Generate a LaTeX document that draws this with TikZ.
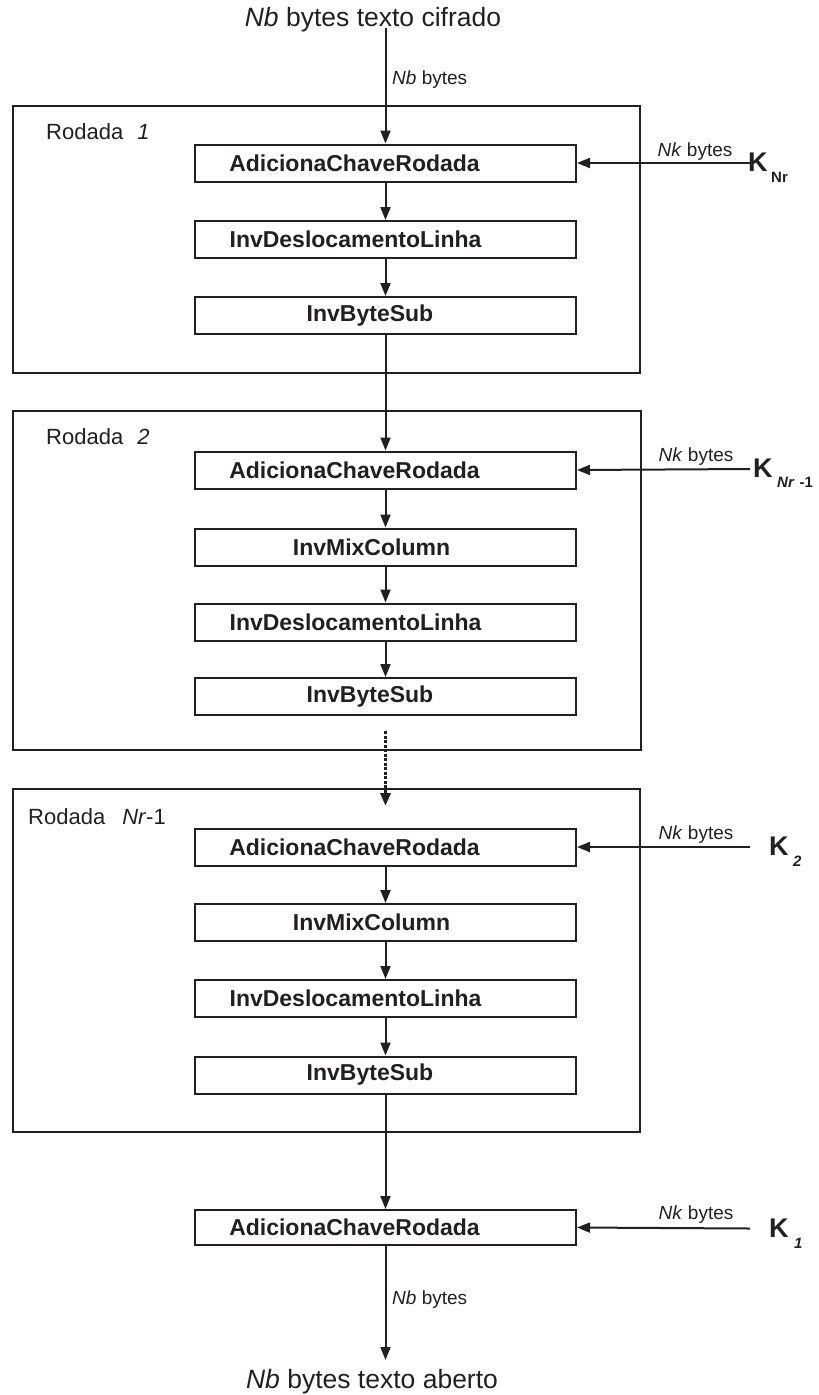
\documentclass[tikz,border=0pt]{standalone}
\usepackage{fontspec}
\setmainfont{Liberation Sans}
\usetikzlibrary{arrows.meta}
\definecolor{ink}{HTML}{231F20}
% stage caption moved left by #1 inside its box
\newcommand{\shiftcap}[2]{\hspace*{-#1}#2}
\begin{document}
\begin{tikzpicture}[x=1pt,y=-1pt,
  stage/.style={draw=ink, line width=2pt, minimum width=381pt, minimum height=37pt,
    inner sep=0pt, font=\fontsize{23}{27}\selectfont\bfseries, text=ink},
  roundframe/.style={draw=ink, line width=2pt, inner sep=0pt},
  flow/.style={draw=ink, line width=2pt, -{Triangle[length=13pt,width=10pt]}},
  dotflow/.style={draw=ink, line width=3.5pt, dash pattern=on 3pt off 1.5pt,
    -{Triangle[length=13pt,width=10pt]}},
  small/.style={font=\fontsize{19}{22}\selectfont, text=ink, inner sep=0pt},
  roundlbl/.style={font=\fontsize{22}{26}\selectfont, text=ink, inner sep=0pt, anchor=west},
  big/.style={font=\fontsize{26.5}{30}\selectfont, text=ink, inner sep=0pt},
  keyK/.style={font=\fontsize{27}{30}\selectfont\bfseries, text=ink, inner sep=0pt, anchor=west},
  keysub/.style={font=\fontsize{15}{18}\selectfont\bfseries, text=ink, inner sep=0pt, anchor=west}
]
\useasboundingbox (0,0) rectangle (819,1395);

% round frames
\node[roundframe, minimum width=627pt, minimum height=267pt] (r1) at (326.5,239.5) {};
\node[roundframe, minimum width=628pt, minimum height=339pt] (r2) at (327,580.5) {};
\node[roundframe, minimum width=627pt, minimum height=343pt] (r3) at (326.5,960.5) {};

\node[roundlbl] (l1) at (46,132) {Rodada\hspace{14pt}\textit{1}};
\node[roundlbl] (l2) at (46,437) {Rodada\hspace{14pt}\textit{2}};
\node[roundlbl] (l3) at (28,817) {Rodada\hspace{17pt}\textit{Nr}-1};

% stages
\node[stage] (a1) at (385.5,163) {\shiftcap{62pt}{AdicionaChaveRodada}};
\node[stage] (d1) at (385.5,239.5) {\shiftcap{60pt}{InvDeslocamentoLinha}};
\node[stage] (s1) at (385.5,315.5) {\shiftcap{31pt}{InvByteSub}};

\node[stage] (a2) at (385.5,470) {\shiftcap{62pt}{AdicionaChaveRodada}};
\node[stage] (m2) at (385.5,547) {\shiftcap{28pt}{InvMixColumn}};
\node[stage] (d2) at (385.5,622) {\shiftcap{60pt}{InvDeslocamentoLinha}};
\node[stage] (s2) at (385.5,696.5) {\shiftcap{31pt}{InvByteSub}};

\node[stage] (a3) at (385.5,847) {\shiftcap{62pt}{AdicionaChaveRodada}};
\node[stage] (m3) at (385.5,922.5) {\shiftcap{28pt}{InvMixColumn}};
\node[stage] (d3) at (385.5,998.5) {\shiftcap{60pt}{InvDeslocamentoLinha}};
\node[stage] (s3) at (385.5,1075) {\shiftcap{31pt}{InvByteSub}};

\node[stage, minimum height=35pt] (af) at (385.5,1227.5) {\shiftcap{62pt}{AdicionaChaveRodada}};

% input and output
\node[big] (ct) at (373,20) {\textit{Nb}\ bytes texto cifrado};
\node[big] (pt) at (372,1382) {\textit{Nb}\ bytes texto aberto};
\coordinate (cin) at (385.5,28);
\coordinate (pout) at (385.5,1360);
\coordinate (dotstart) at (385.5,731);
\coordinate (dotend) at (385.5,806);

\draw[flow] (cin) -- (a1.north);
\node[small, anchor=west] (nbin) at (392,80) {\textit{Nb} bytes};
\draw[flow] (a1) -- (d1);
\draw[flow] (d1) -- (s1);
\draw[flow] (s1) -- (a2);
\draw[flow] (a2) -- (m2);
\draw[flow] (m2) -- (d2);
\draw[flow] (d2) -- (s2);
\draw[dotflow] (dotstart) -- (dotend);
\draw[flow] (a3) -- (m3);
\draw[flow] (m3) -- (d3);
\draw[flow] (d3) -- (s3);
\draw[flow] (s3) -- (af);
\draw[flow] (af.south) -- (pout);
\node[small, anchor=west] (nbout) at (392,1300) {\textit{Nb} bytes};

% round keys
\coordinate (k1in) at (750,163);
\coordinate (k2in) at (750,469);
\coordinate (k3in) at (750,847);
\coordinate (k4in) at (750,1228.5);

\draw[flow] (k1in) -- (a1.east);
\draw[flow] (k2in) -- (a2.east);
\draw[flow] (k3in) -- (a3.east);
\draw[flow] (k4in) -- (af.east);

\node[small] (nk1) at (695,152) {\textit{Nk} bytes};
\node[small] (nk2) at (696,457) {\textit{Nk} bytes};
\node[small] (nk3) at (696,835) {\textit{Nk} bytes};
\node[small] (nk4) at (696,1215) {\textit{Nk} bytes};

\node[keyK] (kNr) at (748,162) {K};
\node[keysub] (sNr) at (771,177) {Nr};
\node[keyK] (kNr1) at (753,468) {K};
\node[keysub] (sNr1) at (777,482) {\textit{Nr}\hspace{5pt}-1};
\node[keyK] (kTwo) at (769,846) {K};
\node[keysub] (sTwo) at (793,861) {\textit{2}};
\node[keyK] (kOne) at (769,1228) {K};
\node[keysub] (sOne) at (794,1243) {\textit{1}};
\end{tikzpicture}
\end{document}
